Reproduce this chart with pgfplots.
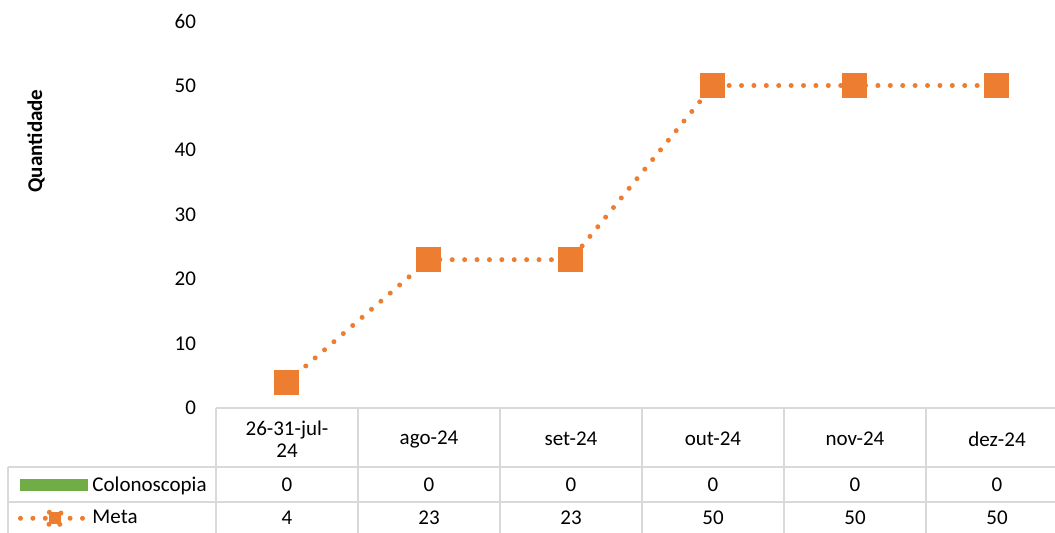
\documentclass[border=0pt]{standalone}
\usepackage{fontspec}
\setmainfont{Carlito}
\usepackage{pgfplots}
\pgfplotsset{compat=1.18}

\definecolor{metaorange}{HTML}{ED7D31}
\definecolor{colongreen}{HTML}{70AD47}
\definecolor{tablegray}{HTML}{D9D9D9}

\begin{document}
\begin{tikzpicture}[font=\fontsize{10.5}{11.2}\selectfont]
\useasboundingbox (0pt,0pt) rectangle (527.5pt,-266.5pt);
\clip (0pt,0pt) rectangle (527.5pt,-266.5pt);
\begin{axis}[
  at={(108pt,-204pt)}, anchor=south west,
  scale only axis, width=426pt, height=193.5pt,
  xmin=-0.5, xmax=5.5, ymin=0, ymax=60,
  clip=false,
  axis line style={draw=none},
  major tick length=0pt,
  xtick={0,1,2,3,4,5},
  xticklabels={{26-31-jul-\\24}, ago-24, set-24, out-24, nov-24, dez-24},
  xticklabel style={align=center, anchor=center, yshift=-15.5pt},
  ytick={0,10,20,30,40,50,60},
  yticklabel style={anchor=east, xshift=-6.5pt},
  /pgf/number format/assume math mode=true,
  ylabel={Quantidade},
  ylabel style={at={(axis description cs:-0.2113,0.69)}, anchor=center, font=\fontsize{10.5}{11.2}\selectfont\bfseries},
  legend style={at={(axis description cs:-0.2324,-0.2416)}, anchor=west,
    draw=none, fill=none, inner sep=0pt, outer sep=0pt,
    row sep=4pt, column sep=0pt,
    cells={anchor=west, inner sep=0pt},
    font=\fontsize{10.5}{11.2}\selectfont},
]
% Colonoscopia: all months at zero
\addplot[ybar, bar width=20pt, fill=colongreen, draw=none,
  legend image code/.code={\fill[colongreen] (0pt,-3pt) rectangle (34pt,3pt);}]
  coordinates {(0,0) (1,0) (2,0) (3,0) (4,0) (5,0)};
\addlegendentry{Colonoscopia}
% Meta
\addplot[metaorange, line width=2.5pt, line cap=round, dash pattern=on 0pt off 6.2pt,
  mark=square*, mark size=5pt, mark options={solid, fill=metaorange, draw=none},
  legend image code/.code={
    \draw[metaorange, line width=2.5pt, line cap=round, dash pattern=on 0pt off 6.2pt] (0pt,0pt) -- (31pt,0pt);
    \fill[metaorange] (14.25pt,-3pt) rectangle (20.25pt,3pt);}]
  coordinates {(0,4) (1,23) (2,23) (3,50) (4,50) (5,50)};
\addlegendentry{Meta}

% values in the data table
\node at (axis cs:0,-11.94) {0};
\node at (axis cs:1,-11.94) {0};
\node at (axis cs:2,-11.94) {0};
\node at (axis cs:3,-11.94) {0};
\node at (axis cs:4,-11.94) {0};
\node at (axis cs:5,-11.94) {0};
\node at (axis cs:0,-17.05) {4};
\node at (axis cs:1,-17.05) {23};
\node at (axis cs:2,-17.05) {23};
\node at (axis cs:3,-17.05) {50};
\node at (axis cs:4,-17.05) {50};
\node at (axis cs:5,-17.05) {50};
\end{axis}

% data table grid
\begin{scope}[draw=tablegray, line width=0.8pt]
  \draw (108pt,-204pt) -- (534pt,-204pt);
  \draw (4pt,-233.5pt) -- (534pt,-233.5pt);
  \draw (4pt,-251pt) -- (534pt,-251pt);
  \draw (4pt,-233.5pt) -- (4pt,-270pt);
  \foreach \x in {108,179,250,321,392,463,534}
    \draw (\x pt,-204pt) -- (\x pt,-270pt);
\end{scope}
\end{tikzpicture}
\end{document}
